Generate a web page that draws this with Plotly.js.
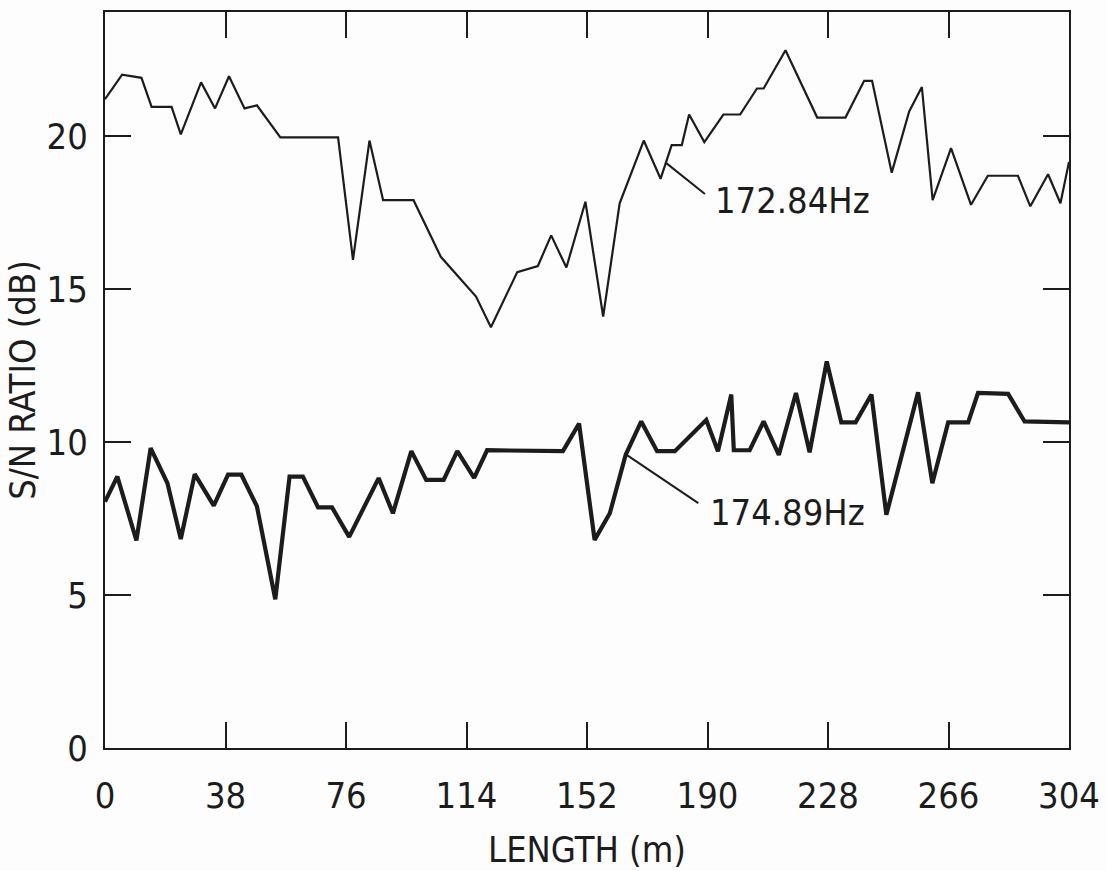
<!DOCTYPE html>
<html>
<head>
<meta charset="utf-8">
<script src="https://cdn.plot.ly/plotly-3.0.1.min.js"></script>
<style>
  html, body { margin: 0; padding: 0; background: #fdfdfd; }
  #chart { width: 1107px; height: 871px; }
</style>
</head>
<body>
<div id="chart"></div>
<script>
// Signal-to-noise ratio along the line length, two tonal frequencies
const len172 = [0, 5.4, 11.5, 14.7, 21.0, 23.9, 30.3, 34.7, 39.1, 44.0, 47.9, 55.3, 73.5, 78.2,
  83.4, 87.7, 97.3, 105.9, 117.0, 121.7, 130.0, 136.5, 140.7, 145.5, 151.5, 157.1, 162.3,
  169.9, 175.2, 178.7, 181.9, 184.2, 189.0, 195.0, 200.3, 205.6, 207.7, 214.6, 224.6, 233.5,
  239.4, 241.9, 248.1, 253.6, 257.6, 261.0, 266.8, 273.1, 278.4, 287.9, 291.8, 297.4, 301.3, 304];
const snr172 = [21.2, 22.0, 21.9, 20.95, 20.95, 20.05, 21.75, 20.9, 21.95, 20.9, 21.0, 19.95, 19.95, 15.95,
  19.85, 17.9, 17.9, 16.05, 14.75, 13.75, 15.55, 15.75, 16.75, 15.7, 17.85, 14.1, 17.8,
  19.85, 18.6, 19.7, 19.7, 20.7, 19.8, 20.7, 20.7, 21.55, 21.55, 22.8, 20.6, 20.6,
  21.8, 21.8, 18.8, 20.8, 21.6, 17.9, 19.6, 17.75, 18.7, 18.7, 17.7, 18.75, 17.8, 19.15];

const len174 = [0, 3.9, 9.9, 14.4, 19.7, 23.9, 28.3, 34.3, 38.8, 43.0, 47.9, 53.7, 58.2, 62.4, 67.2,
  71.6, 77.0, 86.3, 90.8, 96.6, 101.3, 106.8, 111.1, 116.4, 120.5, 144.4, 149.5, 154.4, 159.2,
  164.2, 169.1, 174.1, 179.7, 189.6, 193.3, 197.5, 198.3, 203.3, 207.7, 212.5, 217.9, 222.2,
  227.6, 232.2, 236.7, 241.7, 246.4, 256.4, 260.9, 265.9, 272.2, 275.3, 284.8, 290.0, 304];
const snr174 = [8.05, 8.87, 6.78, 9.8, 8.65, 6.83, 8.95, 7.92, 8.93, 8.93, 7.9, 4.86, 8.87, 8.87, 7.86,
  7.86, 6.9, 8.82, 7.67, 9.7, 8.76, 8.76, 9.7, 8.83, 9.73, 9.7, 10.6, 6.8, 7.67,
  9.58, 10.67, 9.7, 9.7, 10.72, 9.7, 11.55, 9.73, 9.73, 10.67, 9.58, 11.6, 9.66,
  12.63, 10.64, 10.64, 11.55, 7.62, 11.62, 8.65, 10.64, 10.64, 11.6, 11.57, 10.67, 10.64];

const xTicks = [0, 38, 76, 114, 152, 190, 228, 266, 304];
const yTicks = [0, 5, 10, 15, 20];

// Curve labels: text anchor and leader line (from curve point to label)
const seriesLabels = ["172.84Hz", "174.89Hz"];
const labelPos = [[191.7, 17.9], [190.2, 7.7]];
const leaderFrom = [[176.9, 19.12], [164.5, 9.58]];
const leaderTo = [[189.2, 18.1], [187.1, 8.0]];

const ink = "#1c1c1c";
const fontFamily = "'DejaVu Sans Condensed', 'Liberation Sans Narrow', 'DejaVu Sans', sans-serif";

const traces = [
  { x: len172, y: snr172, mode: "lines", name: seriesLabels[0],
    line: { color: ink, width: 2.2 }, hoverinfo: "x+y" },
  { x: len174, y: snr174, mode: "lines", name: seriesLabels[1],
    line: { color: ink, width: 4.2 }, hoverinfo: "x+y" }
];

const axisCommon = {
  showgrid: false, zeroline: false,
  showline: true, linecolor: ink, linewidth: 2,
  mirror: "ticks", ticks: "inside", ticklen: 26, tickwidth: 2, tickcolor: ink,
  tickfont: { family: fontFamily, size: 36, color: ink }
};

const layout = {
  width: 1107, height: 871,
  margin: { l: 105, r: 38, t: 12, b: 123 },
  paper_bgcolor: "#fdfdfd", plot_bgcolor: "#fdfdfd",
  showlegend: false,
  font: { family: fontFamily, color: ink },
  xaxis: Object.assign({}, axisCommon, {
    range: [0, 304], tickvals: xTicks, ticktext: xTicks.map(String),
    ticklabelstandoff: 15,
    title: { text: "LENGTH (m)", font: { family: fontFamily, size: 36, color: ink }, standoff: 22 }
  }),
  yaxis: Object.assign({}, axisCommon, {
    range: [0, 24.05], tickvals: yTicks, ticktext: yTicks.map(String),
    ticklabelstandoff: 8,
    title: { text: "S/N RATIO (dB)", font: { family: fontFamily, size: 36, color: ink }, standoff: 0 }
  }),
  shapes: leaderFrom.map((p, i) => ({
    type: "line", xref: "x", yref: "y",
    x0: p[0], y0: p[1], x1: leaderTo[i][0], y1: leaderTo[i][1],
    line: { color: ink, width: 2 }
  })),
  annotations: seriesLabels.map((t, i) => ({
    text: t, x: labelPos[i][0], y: labelPos[i][1], xref: "x", yref: "y",
    xanchor: "left", yanchor: "middle", showarrow: false,
    font: { family: fontFamily, size: 36, color: ink }
  }))
};

Plotly.newPlot("chart", traces, layout, { displayModeBar: false, staticPlot: true });
</script>
</body>
</html>
